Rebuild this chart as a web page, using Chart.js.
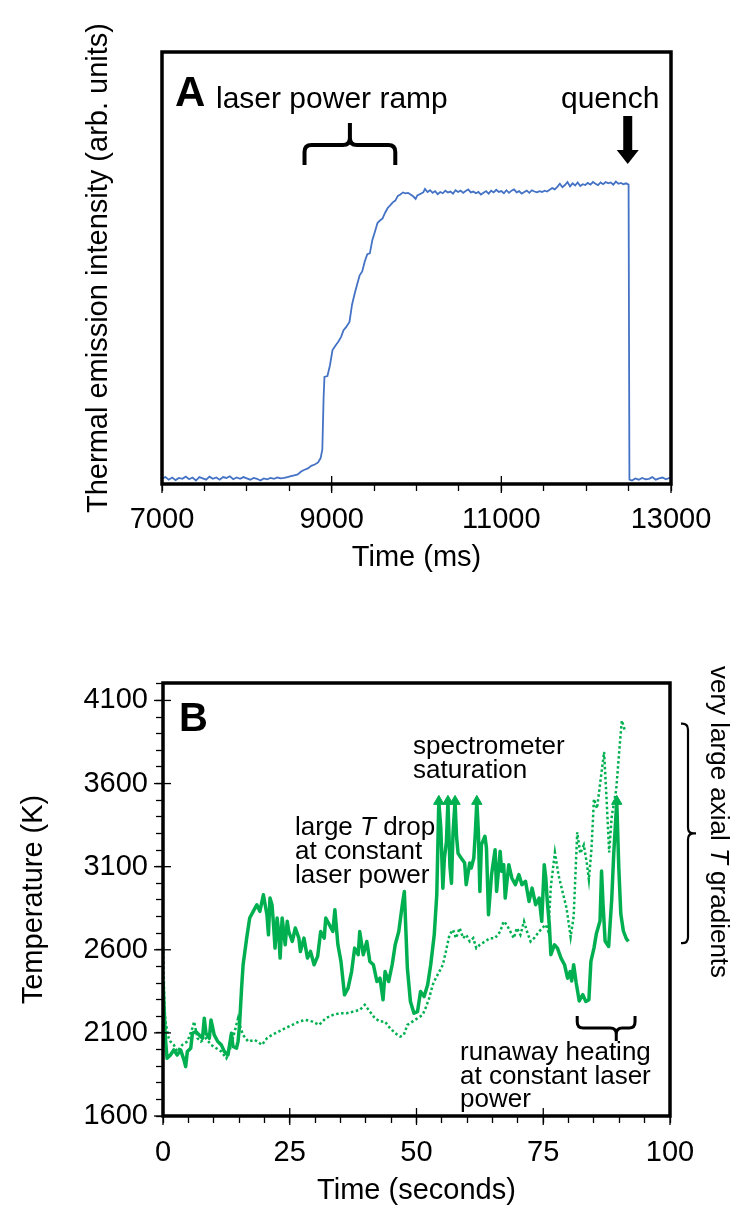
<!DOCTYPE html>
<html>
<head>
<meta charset="utf-8">
<script src="https://cdn.jsdelivr.net/npm/chart.js@4.4.1/dist/chart.umd.min.js"></script>
<style>
  body { margin: 0; background: #fff; }
  #wrap { position: relative; width: 734px; height: 1208px; }
  canvas { position: absolute; left: 0; }
</style>
</head>
<body>
<div id="wrap">
  <canvas id="chartA" width="734" height="600" style="top:0px"></canvas>
  <canvas id="chartB" width="734" height="608" style="top:600px"></canvas>
</div>
<script>
// ---------- panel A : thermal emission vs time ----------
const timeMs = [
  7000, 7040, 7080, 7120, 7160, 7200, 7240, 7280, 7320, 7360,
  7400, 7440, 7480, 7520, 7560, 7600, 7640, 7680, 7720, 7760,
  7800, 7840, 7880, 7920, 7960, 8000, 8040, 8080, 8120, 8160,
  8200, 8240, 8280, 8320, 8360, 8400, 8440, 8480, 8520, 8560,
  8600, 8640, 8680, 8720, 8760, 8800, 8840, 8870, 8890, 8905,
  8915, 8950, 8980, 9010, 9050, 9080, 9110, 9140, 9170, 9210,
  9240, 9270, 9300, 9330, 9360, 9390, 9420, 9450, 9480, 9510,
  9540, 9570, 9600, 9630, 9660, 9690, 9720, 9750, 9780, 9810,
  9840, 9870, 9900, 9930, 9960, 9990, 10010, 10050, 10080, 10100,
  10130, 10160, 10190, 10220, 10250, 10280, 10310, 10340, 10370, 10400,
  10430, 10460, 10490, 10520, 10550, 10580, 10610, 10640, 10670, 10700,
  10730, 10760, 10790, 10820, 10850, 10880, 10910, 10940, 10970, 11000,
  11030, 11060, 11090, 11120, 11150, 11180, 11210, 11240, 11270, 11300,
  11330, 11360, 11390, 11420, 11450, 11480, 11510, 11540, 11570, 11600,
  11630, 11660, 11690, 11720, 11750, 11780, 11810, 11840, 11870, 11900,
  11930, 11960, 11990, 12020, 12050, 12080, 12110, 12140, 12170, 12200,
  12230, 12260, 12290, 12320, 12350, 12380, 12410, 12440, 12470, 12500,
  12510, 12540, 12580, 12620, 12660, 12700, 12740, 12780, 12820, 12860,
  12900, 12940, 12980, 13000
];
const intensity = [
  1.3, 1.6, 1.0, 1.5, 0.9, 1.4, 1.2, 1.7, 1.1, 1.5,
  0.8, 1.6, 1.3, 1.0, 1.7, 1.2, 1.5, 1.0, 1.6, 1.4,
  1.8, 1.1, 1.5, 1.2, 1.6, 1.3, 1.0, 1.4, 1.2, 0.8,
  1.3, 1.1, 1.4, 1.2, 1.5, 1.3, 1.4, 1.6, 1.8, 2.0,
  2.2, 2.9, 3.3, 3.6, 4.2, 4.5, 5.0, 6.0, 8.0, 20.0,
  24.8, 25.0, 27.5, 31.0, 32.2, 33.0, 34.0, 35.6, 36.3, 37.5,
  41.5, 44.0, 46.2, 48.3, 49.2, 51.5, 53.2, 53.4, 56.5, 58.4,
  60.4, 61.0, 61.5, 62.8, 63.9, 64.5, 65.2, 65.6, 66.7, 67.0,
  67.5, 67.3, 67.4, 67.0, 66.6, 66.0, 66.8, 67.2, 67.5, 68.3,
  67.6, 68.0, 67.4, 67.8, 67.1, 67.6, 67.3, 67.9, 67.5, 67.7,
  67.2, 68.0, 67.6, 67.9, 67.4, 67.8, 68.2, 67.5, 67.7, 67.3,
  67.6, 67.0, 67.4, 67.8, 67.2, 67.9, 67.5, 68.1, 67.6, 67.8,
  67.3, 68.0, 67.4, 67.9, 68.2, 67.5, 67.8, 67.2, 67.6, 67.9,
  67.4, 68.0, 67.7, 67.5, 67.8, 67.6, 67.9, 67.7, 68.1, 68.5,
  68.2, 68.8, 69.5, 68.7, 69.2, 69.9, 68.9, 69.6, 69.1, 69.8,
  69.0, 69.4, 69.2, 69.7, 69.3, 69.9, 69.5, 69.2, 69.8, 69.4,
  69.9, 69.6, 69.8, 69.3, 70.0, 69.5, 69.7, 69.4, 69.6, 69.3,
  1.0, 0.8, 1.3, 1.0, 1.4, 1.1, 1.2, 1.6, 1.0, 1.3,
  1.5, 1.1, 1.4, 1.2
];
const xTicksA = [7000, 7500, 8000, 8500, 9000, 9500, 10000, 10500, 11000, 11500, 12000, 12500, 13000];
const xLabelsA = [7000, 9000, 11000, 13000];

// ---------- panel B : temperature vs time ----------
const solidTime = [
  0, 0.47, 0.8, 1.47, 2.13, 2.8, 3.47, 4.14, 4.47, 4.8,
  5.47, 5.8, 6.47, 7.14, 7.8, 8.14, 8.47, 9.14, 9.47, 10.1,
  10.8, 11.5, 12.1, 12.8, 13.5, 13.8, 14.5, 14.8, 15.1, 15.5,
  15.8, 16.5, 17.1, 17.8, 18.5, 19.1, 19.8, 20.5, 20.8, 21.1,
  21.5, 21.8, 22.1, 22.5, 22.8, 23.1, 23.5, 24.1, 24.5, 24.8,
  25.5, 26.1, 26.8, 27.1, 27.8, 28.5, 29.1, 29.8, 30.5, 31.1,
  31.8, 32.1, 32.8, 33.5, 33.9, 34.5, 35.1, 35.8, 36.5, 37.2,
  37.8, 38.5, 38.8, 39.5, 40.2, 40.8, 41.5, 42.2, 42.8, 43.4,
  43.8, 44.5, 45.2, 45.8, 46.5, 47.2, 47.6, 48.2, 48.8, 49.5,
  50.2, 50.8, 51.5, 52.2, 52.8, 53.5, 54.0, 54.4, 54.8, 55.2,
  55.5, 55.9, 56.2, 56.6, 56.9, 57.2, 57.6, 57.9, 58.2, 58.8,
  59.5, 59.8, 60.5, 60.8, 61.3, 61.6, 61.9, 62.2, 62.5, 62.8,
  63.5, 63.8, 64.2, 64.8, 65.5, 65.8, 66.5, 66.8, 67.2, 67.5,
  68.2, 68.8, 69.5, 70.2, 70.8, 71.5, 72.2, 72.8, 73.5, 74.2,
  74.7, 75.2, 75.5, 75.8, 76.2, 76.5, 77.2, 77.8, 78.5, 79.2,
  79.8, 80.3, 80.6, 81.0, 81.5, 82.1, 82.8, 83.4, 84.0, 84.4,
  85.0, 85.5, 86.2, 86.5, 86.8, 87.2, 87.9, 88.5, 88.9, 89.5,
  89.9, 90.3, 90.8, 91.4, 91.8
];
const solidTemp = [
  2409, 2068, 1947, 1967, 1998, 1967, 1998, 1937, 1897, 1988,
  2008, 2098, 2108, 2088, 2068, 2188, 2098, 2068, 2178, 2088,
  2048, 2028, 1988, 1967, 2098, 2018, 2008, 2048, 2148, 2369,
  2510, 2670, 2791, 2831, 2871, 2831, 2931, 2811, 2690, 2911,
  2871, 2751, 2610, 2791, 2710, 2550, 2791, 2630, 2771, 2710,
  2650, 2731, 2670, 2590, 2670, 2550, 2590, 2510, 2560, 2710,
  2670, 2791, 2751, 2710, 2841, 2630, 2530, 2329, 2369, 2469,
  2610, 2570, 2710, 2570, 2650, 2530, 2510, 2409, 2429, 2299,
  2469, 2409, 2510, 2630, 2710, 2871, 2951, 2490, 2289, 2218,
  2228, 2349, 2319, 2389, 2510, 2690, 2931, 3493, 3330, 2970,
  3150, 3250, 3493, 3100, 3000, 3300, 3493, 3280, 3180, 3152,
  3122, 2992, 3122, 3092, 3152, 3300, 3493, 3313, 2951, 3233,
  3283, 3212, 2811, 3052, 3202, 2951, 3192, 3072, 3112, 2911,
  3112, 3032, 2992, 3052, 2992, 3012, 2891, 2971, 2871, 2911,
  2771, 3112, 3032, 2891, 2751, 2570, 2630, 2610, 2550, 2510,
  2429, 2469, 2412, 2510, 2400, 2292, 2330, 2289, 2300, 2530,
  2610, 2700, 2773, 3074, 2871, 2653, 2620, 2900, 3176, 3493,
  3094, 2815, 2713, 2665, 2650
];
// times where the spectrometer saturated (drawn as arrow heads)
const saturationTimes = [54.4, 56.2, 57.6, 61.9, 89.5];

const dottedTime = [
  0, 0.27, 0.47, 1.13, 1.47, 2.13, 2.8, 3.8, 4.8, 5.8,
  6.14, 6.8, 7.47, 8.47, 9.47, 10.5, 11.5, 12.5, 13.1, 13.8,
  14.8, 15.1, 15.8, 16.8, 18.1, 19.5, 20.5, 21.5, 22.8, 24.1,
  25.5, 26.8, 28.1, 29.5, 30.8, 32.1, 33.5, 34.8, 36.2, 37.5,
  38.8, 39.8, 40.8, 41.8, 42.8, 43.8, 44.8, 45.8, 46.8, 47.5,
  48.2, 49.2, 50.2, 51.2, 51.8, 52.5, 53.2, 53.8, 54.5, 55.2,
  55.8, 56.5, 57.2, 57.8, 58.5, 59.2, 59.8, 60.5, 61.2, 61.8,
  62.5, 63.5, 64.5, 65.5, 66.5, 67.2, 67.8, 68.5, 69.2, 69.8,
  70.5, 71.2, 71.8, 72.5, 73.2, 74.2, 74.8, 75.5, 76.0, 76.5,
  77.3, 78.0, 78.8, 79.6, 80.4, 81.0, 81.7, 82.3, 83.0, 83.6,
  84.0, 84.5, 85.0, 85.6, 86.3, 87.0, 87.5, 88.0, 88.5, 89.4,
  90.0, 90.5, 91.0, 91.3
];
const dottedTemp = [
  2650, 2269, 2168, 2068, 2048, 2028, 1988, 2028, 2048, 2128,
  2168, 2068, 2048, 2068, 2028, 2008, 1988, 1947, 1988, 2068,
  2188, 2148, 2088, 2048, 2058, 2028, 2068, 2088, 2108, 2128,
  2148, 2168, 2178, 2168, 2148, 2188, 2208, 2218, 2218, 2228,
  2238, 2269, 2228, 2188, 2168, 2168, 2128, 2098, 2078, 2088,
  2148, 2168, 2188, 2208, 2249, 2309, 2389, 2429, 2469, 2510,
  2590, 2690, 2720, 2670, 2731, 2670, 2690, 2650, 2670, 2610,
  2630, 2650, 2670, 2670, 2710, 2771, 2751, 2710, 2670, 2731,
  2690, 2771, 2710, 2650, 2670, 2710, 2731, 2751, 2710, 2980,
  3186, 3050, 2950, 2850, 2677, 2800, 3307, 3180, 3230, 3120,
  3022, 3200, 3507, 3450, 3620, 3790, 3500, 3186, 3400, 3567,
  3800, 3979, 3930, 3912
];
const xTicksB = [0, 5, 10, 15, 20, 25, 30, 35, 40, 45, 50, 55, 60, 65, 70, 75, 80, 85, 90, 95, 100];
const xLabelsB = [0, 25, 50, 75, 100];
const yTicksB = [1600, 1700, 1800, 1900, 2000, 2100, 2200, 2300, 2400, 2500, 2600, 2700, 2800,
  2900, 3000, 3100, 3200, 3300, 3400, 3500, 3600, 3700, 3800, 3900, 4000, 4100, 4200];
const yLabelsB = [1600, 2100, 2600, 3100, 3600, 4100];

const FONT = '"Liberation Sans", Arial, Helvetica, sans-serif';
Chart.defaults.font.family = FONT;
Chart.defaults.color = '#000';

// draw a line of text where some pieces are italic
function drawRich(ctx, parts, x, y, size, align) {
  const widths = parts.map(p => {
    ctx.font = (p[1] ? 'italic ' : '') + size + 'px ' + FONT;
    return ctx.measureText(p[0]).width;
  });
  const total = widths.reduce((a, b) => a + b, 0);
  let cx = align === 'center' ? x - total / 2 : x;
  ctx.textAlign = 'left';
  parts.forEach((p, i) => {
    ctx.font = (p[1] ? 'italic ' : '') + size + 'px ' + FONT;
    ctx.fillText(p[0], cx, y);
    cx += widths[i];
  });
}

// horizontal curly brace, tip points toward yTip
function hBrace(ctx, x1, x2, xTip, yEnd, yBar, yTip, r) {
  const d = Math.sign(yTip - yBar);
  ctx.beginPath();
  ctx.moveTo(x1, yEnd);
  ctx.lineTo(x1, yBar - d * r);
  ctx.quadraticCurveTo(x1, yBar, x1 + r, yBar);
  ctx.lineTo(xTip - r, yBar);
  ctx.quadraticCurveTo(xTip, yBar, xTip, yBar + d * r);
  ctx.lineTo(xTip, yTip);
  ctx.lineTo(xTip, yBar + d * r);
  ctx.quadraticCurveTo(xTip, yBar, xTip + r, yBar);
  ctx.lineTo(x2 - r, yBar);
  ctx.quadraticCurveTo(x2, yBar, x2, yBar - d * r);
  ctx.lineTo(x2, yEnd);
  ctx.stroke();
}

// vertical curly brace, tip points toward xTip
function vBrace(ctx, y1, y2, yTip, xEnd, xBar, xTip, r) {
  const d = Math.sign(xTip - xBar);
  ctx.beginPath();
  ctx.moveTo(xEnd, y1);
  ctx.lineTo(xBar - d * r, y1);
  ctx.quadraticCurveTo(xBar, y1, xBar, y1 + r);
  ctx.lineTo(xBar, yTip - r);
  ctx.quadraticCurveTo(xBar, yTip, xBar + d * r, yTip);
  ctx.lineTo(xTip, yTip);
  ctx.lineTo(xBar + d * r, yTip);
  ctx.quadraticCurveTo(xBar, yTip, xBar, yTip + r);
  ctx.lineTo(xBar, y2 - r);
  ctx.quadraticCurveTo(xBar, y2, xBar - d * r, y2);
  ctx.lineTo(xEnd, y2);
  ctx.stroke();
}

// longer major ticks crossing the frame
function majorTicksX(ctx, scale, a, values) {
  values.forEach(v => {
    const px = scale.getPixelForValue(v);
    ctx.beginPath(); ctx.moveTo(px, a.bottom - 8); ctx.lineTo(px, a.bottom + 9); ctx.stroke();
  });
}
function majorTicksY(ctx, scale, a, values) {
  values.forEach(v => {
    const py = scale.getPixelForValue(v);
    ctx.beginPath(); ctx.moveTo(a.left + 8, py); ctx.lineTo(a.left - 9, py); ctx.stroke();
  });
}

const decorA = {
  id: 'decorA',
  afterDatasetsDraw(chart) {
    const { ctx, chartArea: a, scales: { x } } = chart;
    ctx.save();
    ctx.strokeStyle = '#000';
    ctx.fillStyle = '#000';
    ctx.lineWidth = 1.3;
    majorTicksX(ctx, x, a, xLabelsA);
    ctx.lineWidth = 3.5;
    ctx.strokeRect(a.left, a.top, a.right - a.left, a.bottom - a.top);

    ctx.textBaseline = 'alphabetic';
    ctx.textAlign = 'left';
    ctx.font = 'bold 42px ' + FONT;
    ctx.fillText('A', 175, 106);
    ctx.font = '30px ' + FONT;
    ctx.fillText('laser power ramp', 216, 108);
    ctx.fillText('quench', 561, 108);

    // brace over the ramp
    ctx.lineWidth = 4;
    hBrace(ctx, x.getPixelForValue(8680), x.getPixelForValue(9750), x.getPixelForValue(9215), 165, 145, 123, 7);

    // quench arrow
    const qx = x.getPixelForValue(12490);
    ctx.fillRect(qx - 4.5, 116, 9, 35);
    ctx.beginPath();
    ctx.moveTo(qx - 11, 150); ctx.lineTo(qx + 11, 150); ctx.lineTo(qx, 164); ctx.closePath();
    ctx.fill();
    ctx.restore();
  }
};

const decorB = {
  id: 'decorB',
  afterDatasetsDraw(chart) {
    const { ctx, chartArea: a, scales: { x, y } } = chart;
    ctx.save();
    ctx.strokeStyle = '#000';
    ctx.fillStyle = '#000';
    ctx.lineWidth = 1.3;
    majorTicksX(ctx, x, a, xLabelsB);
    majorTicksY(ctx, y, a, yLabelsB);
    ctx.lineWidth = 3.5;
    ctx.strokeRect(a.left, a.top, a.right - a.left, a.bottom - a.top);

    ctx.textBaseline = 'alphabetic';
    ctx.textAlign = 'left';
    ctx.font = 'bold 40px ' + FONT;
    ctx.fillText('B', 179, 131);

    const fs = 26;
    ctx.font = fs + 'px ' + FONT;
    ctx.fillText('spectrometer', 413, 154);
    ctx.fillText('saturation', 413, 178);

    drawRich(ctx, [['large ', false], ['T', true], [' drop', false]], 295, 235, fs, 'left');
    drawRich(ctx, [['at constant', false]], 295, 259, fs, 'left');
    drawRich(ctx, [['laser power', false]], 295, 283, fs, 'left');

    ctx.font = fs + 'px ' + FONT;
    ctx.fillText('runaway heating', 460, 460);
    ctx.fillText('at constant laser', 460, 484);
    ctx.fillText('power', 460, 507);

    // brace below runaway region
    ctx.lineWidth = 3;
    hBrace(ctx, x.getPixelForValue(81.7), x.getPixelForValue(93.1), x.getPixelForValue(89.4), 416, 428, 441, 6);

    // brace at the right, spanning the gap between the two traces
    const yTop = y.getPixelForValue(3960), yBot = y.getPixelForValue(2640);
    ctx.lineWidth = 2.2;
    vBrace(ctx, yTop, yBot, (yTop + yBot) / 2, 681, 688, 696, 6);

    ctx.save();
    ctx.translate(718, 222);
    ctx.rotate(Math.PI / 2);
    ctx.textBaseline = 'middle';
    drawRich(ctx, [['very large axial ', false], ['T', true], [' gradients', false]], 0, 0, fs, 'center');
    ctx.restore();
    ctx.restore();
  }
};

const tickGrid = { drawOnChartArea: false, drawTicks: true, tickLength: 7, tickColor: '#000', tickWidth: 1.3 };

new Chart(document.getElementById('chartA'), {
  type: 'line',
  data: {
    datasets: [{
      data: timeMs.map((t, i) => ({ x: t, y: intensity[i] })),
      borderColor: '#4472C4',
      borderWidth: 1.8,
      pointRadius: 0,
      tension: 0
    }]
  },
  options: {
    responsive: false,
    animation: false,
    layout: { padding: { left: 0, right: 63, top: 52, bottom: 0 } },
    plugins: { legend: { display: false }, tooltip: { enabled: false } },
    scales: {
      x: {
        type: 'linear', min: 7000, max: 13000,
        afterBuildTicks: s => { s.ticks = xTicksA.map(v => ({ value: v })); },
        afterFit: s => { s.height = 600 - 484; },
        grid: tickGrid,
        border: { display: false },
        ticks: {
          autoSkip: false, maxRotation: 0, padding: 12, color: '#000',
          font: { size: 29 },
          callback: v => xLabelsA.includes(v) ? String(v) : ''
        },
        title: { display: true, text: 'Time (ms)', color: '#000', font: { size: 29 }, padding: { top: 0, bottom: 25 } }
      },
      y: {
        type: 'linear', min: 0, max: 100,
        afterFit: s => { s.width = 162; },
        grid: { display: false },
        border: { display: false },
        ticks: { display: false },
        title: { display: true, text: 'Thermal emission intensity (arb. units)', color: '#000', font: { size: 29 }, padding: { top: 82, bottom: 0 } }
      }
    }
  },
  plugins: [decorA]
});

new Chart(document.getElementById('chartB'), {
  type: 'line',
  data: {
    datasets: [{
      label: 'solid',
      data: solidTime.map((t, i) => ({ x: t, y: solidTemp[i] })),
      borderColor: '#00B050',
      backgroundColor: '#00B050',
      borderWidth: 3.5,
      borderJoinStyle: 'round',
      tension: 0,
      pointStyle: 'triangle',
      pointRadius: c => saturationTimes.includes(solidTime[c.dataIndex]) ? 6 : 0,
      pointBorderColor: '#00B050',
      pointBackgroundColor: '#00B050',
      pointBorderWidth: 1
    }, {
      label: 'dotted',
      data: dottedTime.map((t, i) => ({ x: t, y: dottedTemp[i] })),
      borderColor: '#00B050',
      borderWidth: 2.5,
      borderDash: [2.5, 2.5],
      tension: 0,
      pointRadius: 0
    }]
  },
  options: {
    responsive: false,
    animation: false,
    layout: { padding: { left: 0, right: 64, top: 83, bottom: 0 } },
    plugins: { legend: { display: false }, tooltip: { enabled: false } },
    scales: {
      x: {
        type: 'linear', min: 0, max: 100,
        afterBuildTicks: s => { s.ticks = xTicksB.map(v => ({ value: v })); },
        afterFit: s => { s.height = 608 - 516; },
        grid: tickGrid,
        border: { display: false },
        ticks: {
          autoSkip: false, maxRotation: 0, padding: 13, color: '#000',
          font: { size: 29 },
          callback: v => xLabelsB.includes(v) ? String(v) : ''
        },
        title: { display: true, text: 'Time (seconds)', color: '#000', font: { size: 29 }, padding: { top: 0, bottom: 0 } }
      },
      y: {
        type: 'linear', min: 1600, max: 4205,
        afterBuildTicks: s => { s.ticks = yTicksB.map(v => ({ value: v })); },
        afterFit: s => { s.width = 163; },
        grid: tickGrid,
        border: { display: false },
        ticks: {
          autoSkip: false, padding: 8, color: '#000',
          font: { size: 29 },
          callback: v => yLabelsB.includes(v) ? String(v) : ''
        },
        title: { display: true, text: 'Temperature (K)', color: '#000', font: { size: 29 }, padding: { top: 17, bottom: 0 } }
      }
    }
  },
  plugins: [decorB]
});
</script>
</body>
</html>
